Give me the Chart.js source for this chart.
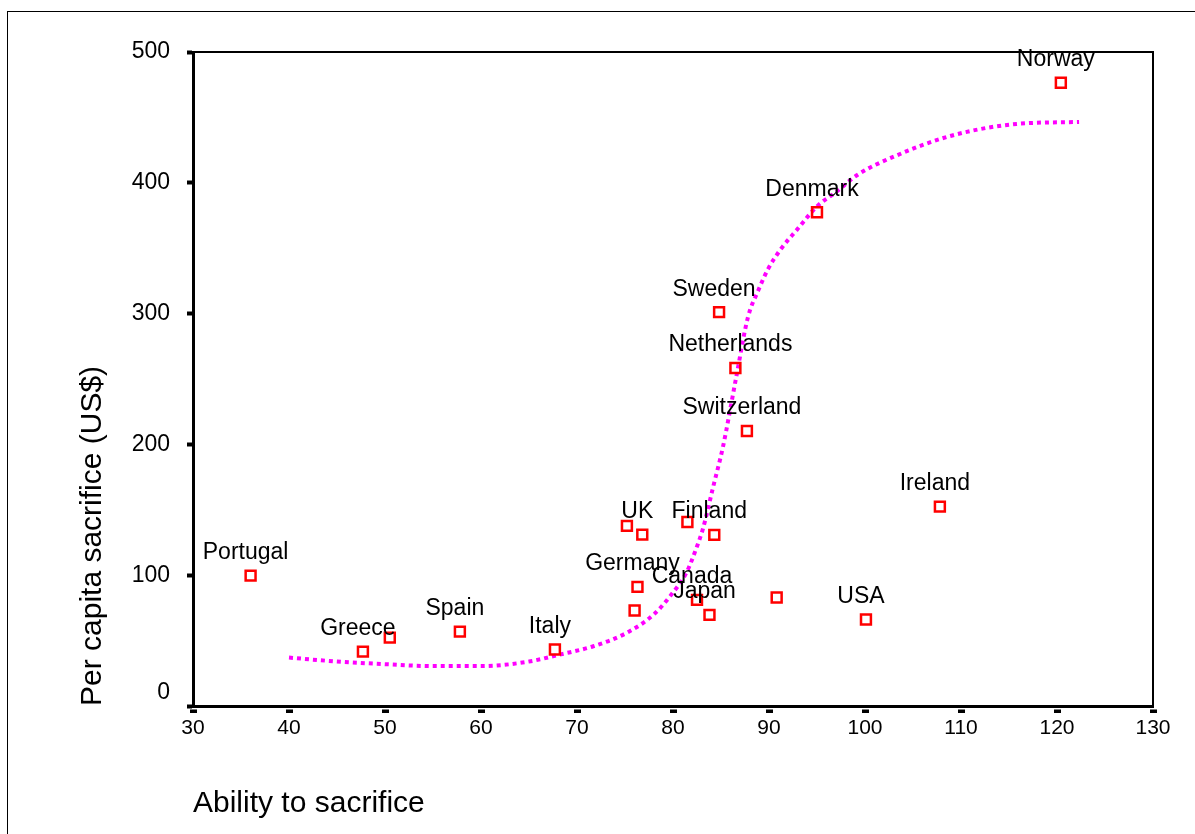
<!DOCTYPE html>
<html>
<head>
<meta charset="utf-8">
<script src="https://cdn.jsdelivr.net/npm/chart.js@4"></script>
<style>
  html, body { margin: 0; padding: 0; background: #fff; }
</style>
</head>
<body>
<canvas id="chart" width="1195" height="834"></canvas>
<script>
// Country scatter (empty name = unlabeled point)
const countries = ["Portugal", "Greece", "", "Spain", "Italy", "", "UK", "", "Finland", "Germany", "",
  "Canada", "Japan", "", "USA", "Ireland", "Sweden", "Netherlands", "Switzerland", "Denmark", "Norway"];
const ability = [36.0, 47.7, 50.5, 57.8, 67.7, 75.2, 76.8, 81.5, 84.3, 76.3, 76.0,
  82.5, 83.8, 90.8, 100.1, 107.8, 84.8, 86.5, 87.7, 95.0, 120.4];
const sacrifice = [99.7, 41.6, 52.3, 56.9, 43.2, 137.7, 131.0, 140.7, 130.8, 91.1, 73.0,
  81.1, 69.7, 82.9, 66.1, 152.4, 301.1, 258.4, 210.2, 377.5, 476.5];

// Fitted curve
const fitX = [40, 45, 50, 55, 60, 65, 68.2, 71.7, 75.2, 78, 79.7, 81.4, 82.5, 83.1, 84.2, 85.2, 86.6, 87.8,
  88.9, 89.9, 91.2, 92.9, 95, 97, 99.2, 103, 109, 115.8, 122.3];
const fitY = [37, 34, 32, 30.5, 30.5, 34, 39.3, 45.7, 56, 70, 84, 102, 122, 135, 168, 198, 252, 297,
  318, 334, 349, 364, 382, 393, 406, 420, 436, 445, 446.5];

const FONT = '"Liberation Sans", Arial, sans-serif';

const frame = {
  id: "frame",
  afterDraw(chart) {
    const ctx = chart.ctx;
    const a = chart.chartArea;
    ctx.save();
    ctx.strokeStyle = "#000";
    // top and right of plot box
    ctx.lineWidth = 2;
    ctx.beginPath();
    ctx.moveTo(a.left, a.top);
    ctx.lineTo(a.right, a.top);
    ctx.lineTo(a.right, a.bottom);
    ctx.stroke();
    // outer border
    ctx.lineWidth = 1;
    ctx.strokeRect(7.5, 11.5, 1300, 1000);
    ctx.restore();
  }
};

const countryLabels = {
  id: "countryLabels",
  afterDatasetsDraw(chart) {
    const ctx = chart.ctx;
    const meta = chart.getDatasetMeta(0);
    ctx.save();
    ctx.font = "23px " + FONT;
    ctx.fillStyle = "#000";
    ctx.textAlign = "center";
    ctx.textBaseline = "middle";
    meta.data.forEach((pt, i) => {
      if (countries[i]) ctx.fillText(countries[i], pt.x - 5, pt.y - 23);
    });
    ctx.restore();
  }
};

new Chart(document.getElementById("chart"), {
  type: "scatter",
  data: {
    datasets: [
      {
        label: "Countries",
        data: ability.map((x, i) => ({ x: x, y: sacrifice[i] })),
        pointStyle: "rect",
        pointRadius: 7,
        pointBorderWidth: 2.5,
        pointBorderColor: "#ff0000",
        pointBackgroundColor: "rgba(255,255,255,0)",
        pointHoverRadius: 7,
      },
      {
        label: "Fit",
        type: "line",
        data: fitX.map((x, i) => ({ x: x, y: fitY[i] })),
        borderColor: "#ff00ff",
        borderWidth: 4,
        borderDash: [4, 4],
        pointRadius: 0,
        fill: false,
        cubicInterpolationMode: "monotone",
      },
    ],
  },
  options: {
    responsive: false,
    animation: false,
    events: [],
    layout: { padding: { top: 52, right: 42, left: 0, bottom: 0 } },
    plugins: { legend: { display: false }, tooltip: { enabled: false } },
    scales: {
      x: {
        type: "linear",
        min: 30,
        max: 130,
        afterFit(s) { s.height = 128; },
        ticks: { stepSize: 10, color: "#000", font: { family: FONT, size: 21 }, padding: 3 },
        grid: {
          drawOnChartArea: false,
          tickLength: 7,
          tickWidth: 7,
          tickColor: "#000",
          tickBorderDash: [0, 1.5, 4, 10],
        },
        border: { color: "#000", width: 3 },
        title: {
          display: true,
          text: "Ability to sacrifice",
          align: "start",
          color: "#000",
          font: { family: FONT, size: 30 },
          padding: { top: 0, bottom: 12 },
        },
      },
      y: {
        min: 0,
        max: 500,
        afterFit(s) { s.width = 193; },
        ticks: {
          stepSize: 100,
          color: "#000",
          font: { family: FONT, size: 23 },
          padding: 17,
          callback: (v) => (v === 0 ? ["0", ""] : v),
        },
        grid: {
          drawOnChartArea: false,
          tickLength: 6,
          tickWidth: 4,
          tickColor: "#000",
        },
        border: { color: "#000", width: 3 },
        title: {
          display: true,
          text: "Per capita sacrifice (US$)",
          align: "start",
          color: "#000",
          font: { family: FONT, size: 30 },
          padding: { top: 75, bottom: 0 },
        },
      },
    },
  },
  plugins: [frame, countryLabels],
});
</script>
</body>
</html>
